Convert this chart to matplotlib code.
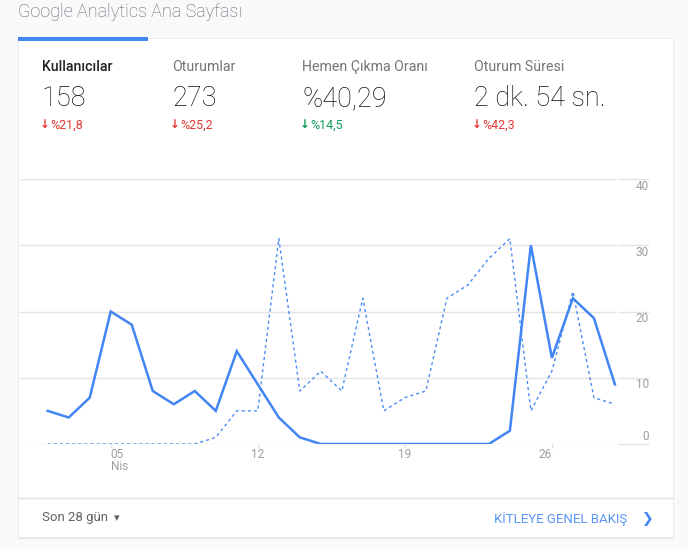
import matplotlib
matplotlib.use("Agg")
import matplotlib.pyplot as plt
from matplotlib.patches import Rectangle
from matplotlib.transforms import blended_transform_factory

plt.rcParams['font.family'] = ['Roboto', 'DejaVu Sans']

# data (April, last 28 days)
days = list(range(2, 30))
users = [5, 4, 7, 20, 18, 8, 6, 8, 5, 14, 9, 4, 1, 0, 0, 0, 0, 0, 0, 0, 0, 0, 2, 30, 13, 22, 19, 9]
users_prev = [0, 0, 0, 0, 0, 0, 0, 0, 1, 5, 5, 31, 8, 11, 8, 22, 5, 7, 8, 22, 24, 28, 31, 5, 11, 23, 7, 6]
y_ticks = [0, 10, 20, 30, 40]
x_ticks = [5, 12, 19, 26]
x_labels = ["05", "12", "19", "26"]

metric_names = ["Kullanıcılar", "Oturumlar", "Hemen Çıkma Oranı", "Oturum Süresi"]
metric_values = ["158", "273", "%40,29", "2 dk. 54 sn."]
metric_deltas = ["%21,8", "%25,2", "%14,5", "%42,3"]
delta_colors = ["#e53935", "#e53935", "#0f9d58", "#e53935"]

W, H = 688, 549
fig = plt.figure(figsize=(W / 100, H / 100), dpi=100)
fig.patch.set_facecolor("#f8f9fa")

# background layer in pixel coordinates
bg = fig.add_axes([0, 0, 1, 1])
bg.set_xlim(0, W)
bg.set_ylim(H, 0)
bg.axis("off")

# card with a soft shadow
bg.add_patch(Rectangle((18, 39), 656, 500, facecolor="#e3e4e6", edgecolor="none"))
bg.add_patch(Rectangle((18, 38), 655, 499, facecolor="white", edgecolor="#ececec", lw=0.6))
bg.add_patch(Rectangle((18, 37), 130, 4, facecolor="#4285f4", edgecolor="none"))
bg.plot([18, 673], [498, 498], color="#e0e0e0", lw=1)

bg.text(18, 12, "Google Analytics Ana Sayfası", fontsize=13, color="#5f6368",
        fontweight="light", va="center", ha="left")

xs = [42, 172, 302, 474]
for i, x in enumerate(xs):
    bg.text(x, 67, metric_names[i], fontsize=10.2, va="center", ha="left",
            color="#212121" if i == 0 else "#757575",
            fontweight="medium" if i == 0 else "normal")
    bg.text(x, 99, metric_values[i], fontsize=19.5, va="center", ha="left",
            color="#111111", fontweight="light")
    bg.text(x + 3, 125, "↓", fontsize=8.5, va="center", ha="center",
            color=delta_colors[i], fontweight="bold", family=["DejaVu Sans"])
    bg.text(x + 8, 125, metric_deltas[i], fontsize=9, va="center", ha="left",
            color=delta_colors[i])

bg.text(42, 518, "Son 28 gün", fontsize=9.5, color="#5f6368", va="center", ha="left")
bg.text(117, 518, "▾", fontsize=8, color="#5f6368", va="center", ha="center",
        family=["DejaVu Sans"])
bg.text(627, 519, "KİTLEYE GENEL BAKIŞ", fontsize=9.5, color="#5a95f5",
        va="center", ha="right")
bg.text(648, 519, "❯", fontsize=10, color="#4285f4", va="center", ha="center",
        fontweight="bold", family=["DejaVu Sans"])

# chart area
left, right, top, bottom = 20, 617, 179, 444
ax = fig.add_axes([left / W, (H - bottom) / H, (right - left) / W, (bottom - top) / H])
ax.patch.set_alpha(0)
ax.set_xlim(0.68, 29.1)
ax.set_ylim(0, 40)
for s in ax.spines.values():
    s.set_visible(False)

trans = blended_transform_factory(ax.transAxes, ax.transData)
for v in y_ticks:
    ax.axhline(v, color="#e4e4e4", lw=1, zorder=1)
    ax.plot([1.0034, 1.052], [v, v], color="#e4e4e4", lw=1, transform=trans, clip_on=False)
    dy = 8 if v == 0 else -7
    ax.annotate(str(v), xy=(1.0, v), xycoords=trans, xytext=(32, dy),
                textcoords="offset pixels", ha="right", va="center",
                fontsize=8.5, color="#9e9e9e")

ax.set_yticks([])
ax.set_xticks(x_ticks)
ax.set_xticklabels([])
ax.tick_params(axis="x", length=3, color="#e0e0e0", width=1)

aligns = ["left", "center", "center", "right"]
for t, lab, ha in zip(x_ticks, x_labels, aligns):
    ax.annotate(lab, xy=(t, 0), xytext=(0, -10), textcoords="offset pixels",
                ha=ha, va="center", fontsize=8.5, color="#9e9e9e")
ax.annotate("Nis", xy=(x_ticks[0], 0), xytext=(0, -23), textcoords="offset pixels",
            ha="left", va="center", fontsize=8.5, color="#9e9e9e")

prev_line, = ax.plot(days, users_prev, color="#4a8cf5", lw=1.0, zorder=2)
prev_line.set_dashes((2.2, 2.2))
ax.plot(days, users, color="#4285f4", lw=1.8, zorder=3, solid_joinstyle="miter")

fig.savefig("out.png", dpi=100, facecolor=fig.get_facecolor())
